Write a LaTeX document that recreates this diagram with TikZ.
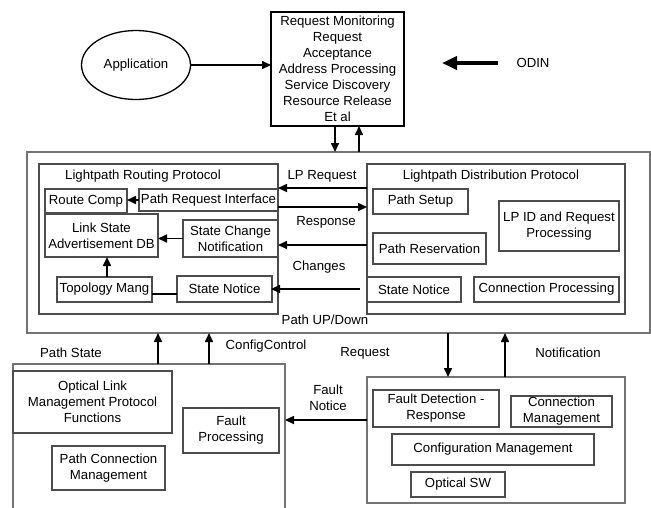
\documentclass[tikz,border=0pt]{standalone}
\usepackage{fontspec}
\setmainfont{Liberation Sans}
\usetikzlibrary{arrows.meta,shapes.geometric}
\begin{document}
\begin{tikzpicture}[x=1pt,y=-1pt,
  every node/.style={font=\fontsize{13.2}{16}\selectfont, inner sep=0pt, outer sep=0pt, align=center},
  box/.style={draw=black!70, line width=1.1pt, rectangle},
  bigbox/.style={draw=black!55, line width=1.7pt, rectangle},
  topbox/.style={draw=black, line width=1.9pt, rectangle},
  arr/.style={-{Triangle[length=9pt,width=8pt]}, line width=1.6pt, draw=black},
  bigarr/.style={-{Triangle[length=15pt,width=13pt]}, line width=3.8pt, draw=black},
  lbl/.style={}
]
\useasboundingbox[fill=white] (0,0) rectangle (651,507);

% top
\node[draw=black, line width=1.3pt, ellipse, minimum width=109pt, minimum height=69pt] (app) at (136,65) {Application};
\node[topbox, minimum width=133pt, minimum height=114pt] (top) at (337.5,69) {Request Monitoring\\Request\\Acceptance\\Address Processing\\Service Discovery\\Resource Release\\Et al};
\coordinate (odinstart) at (498,63);
\coordinate (odinend) at (442,63);
\node (odin) at (533,63) {ODIN};

% outer
\node[bigbox, minimum width=623pt, minimum height=181pt] (outer) at (338.5,242.5) {};

% LRP
\node[box, minimum width=239pt, minimum height=150pt] (LRP) at (158.5,239) {};
\node (LRPt) at (143,176) {Lightpath Routing Protocol};
\node[box, minimum width=82pt, minimum height=24pt] (RC) at (86,201) {Route Comp};
\node[box, minimum width=139pt, minimum height=22pt] (PRI) at (208.5,200) {Path Request Interface};
\node[box, minimum width=113pt, minimum height=43pt] (LSADB) at (101.5,235.5) {Link State\\Advertisement DB};
\node[box, minimum width=95pt, minimum height=37pt] (SCN) at (230.5,238.5) {State Change\\Notification};
\node[box, minimum width=95pt, minimum height=25pt] (TM) at (104.5,289.5) {Topology Mang};
\node[box, minimum width=95pt, minimum height=26pt] (SNL) at (224.5,289) {State Notice};

% LDP
\node[box, minimum width=258pt, minimum height=150pt] (LDP) at (496,239) {};
\node (LDPt) at (491,176) {Lightpath Distribution Protocol};
\node[box, minimum width=95pt, minimum height=25pt] (PS) at (420.5,201.5) {Path Setup};
\node[box, minimum width=113pt, minimum height=31pt] (PR) at (429.5,248.5) {Path Reservation};
\node[box, minimum width=120pt, minimum height=50pt] (LPID) at (559,226) {LP ID and Request\\Processing};
\node[box, minimum width=94pt, minimum height=25pt] (SNR) at (414,289.5) {State Notice};
\node[box, minimum width=145pt, minimum height=25pt] (CP) at (546.5,289.5) {Connection Processing};

% middle labels
\node (lLPR) at (322,176) {LP Request};
\node (lResp) at (326,222) {Response};
\node (lChg) at (319,267) {Changes};
\node (lPUD) at (325,320) {Path UP/Down};

% lower left
\node[bigbox, minimum width=272pt, minimum height=160pt] (LL) at (149,444) {};
\node[box, minimum width=159pt, minimum height=62pt] (OLMP) at (92.5,402) {Optical Link\\Management Protocol\\Functions};
\node[box, minimum width=96pt, minimum height=45pt] (FP) at (231,430.5) {Fault\\Processing};
\node[box, minimum width=113pt, minimum height=44pt] (PCM) at (108.5,468) {Path Connection\\Management};

% lower right
\node[bigbox, minimum width=258pt, minimum height=126pt] (LR) at (496,440) {};
\node[box, minimum width=126pt, minimum height=37pt] (FDR) at (436,408.5) {Fault Detection -\\Response};
\node[box, minimum width=101pt, minimum height=31pt] (CM) at (561.5,411.5) {Connection\\Management};
\node[box, minimum width=202pt, minimum height=31pt] (CfgM) at (493,449.5) {Configuration Management};
\node[box, minimum width=94pt, minimum height=25pt] (OSW) at (458,484.5) {Optical SW};

% bottom labels
\node (lPS) at (71,353) {Path State};
\node (lCC) at (266,346) {ConfigControl};
\node (lReq) at (365,353) {Request};
\node (lNot) at (568,353) {Notification};
\node (lFN) at (328,398) {Fault\\Notice};

% connectors
\draw[arr] (app.east) -- (app.east -| top.west);
\draw[bigarr] (odinstart) -- (odinend);
\draw[arr] ([xshift=-2.5pt]top.south) -- ([xshift=-2.5pt]top.south |- outer.north);
\draw[arr] ([xshift=21.5pt]top.south |- outer.north) -- ([xshift=21.5pt]top.south);

\draw[arr] (PRI.west) -- (PRI.west -| RC.east);
\draw[arr] (SCN.west) -- (SCN.west -| LSADB.east);
\draw[arr] ([xshift=2.5pt]TM.north) -- ([xshift=2.5pt]TM.north |- LSADB.south);
\draw[line width=1.6pt] ([yshift=-4.5pt]TM.east) -- ([yshift=-4.5pt]TM.east -| SNL.west);

\draw[arr] ([yshift=51pt]LDP.west) -- ([yshift=51pt]LDP.west -| LRP.east);
\draw[arr] ([yshift=32pt]LRP.east) -- ([yshift=32pt]LRP.east -| LDP.west);
\draw[arr] ([yshift=-6pt]LDP.west) -- ([yshift=-6pt]LDP.west -| LRP.east);
\draw[arr] ([xshift=-7pt,yshift=0.5pt]SNR.west) -- ([xshift=-7pt,yshift=0.5pt]SNR.west -| LRP.east);

\draw[arr] ([xshift=9pt]LL.north) -- ([xshift=9pt]LL.north |- outer.south);
\draw[arr] ([xshift=60pt]LL.north) -- ([xshift=60pt]LL.north |- outer.south);
\draw[arr] ([xshift=-48pt]LR.north |- outer.south) -- ([xshift=-48pt]LR.north);
\draw[arr] ([xshift=9pt]LR.north) -- ([xshift=9pt]LR.north |- outer.south);
\draw[arr] ([yshift=20pt]LR.west) -- ([yshift=20pt]LR.west -| LL.east);
\end{tikzpicture}
\end{document}
